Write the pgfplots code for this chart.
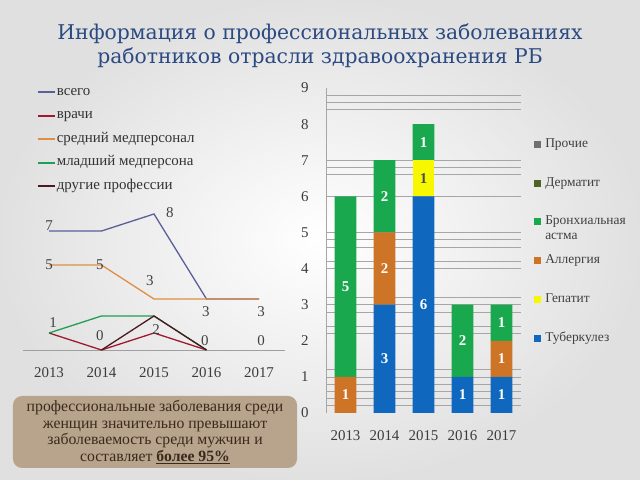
\documentclass[border=0pt]{standalone}
\usepackage{pgfplots}
\pgfplotsset{compat=1.18}
\usepackage{fontspec}
\setmainfont{Liberation Serif}
\newfontfamily\titlefont{DejaVu Serif}
\definecolor{ctitle}{HTML}{2B4A82}
\definecolor{cvsego}{HTML}{5B5F97}
\definecolor{cvrachi}{HTML}{A0182E}
\definecolor{csred}{HTML}{E08E45}
\definecolor{cmlad}{HTML}{1F9E55}
\definecolor{cdrug}{HTML}{4A1A20}
\definecolor{ctub}{HTML}{0F67BE}
\definecolor{cgep}{HTML}{F7F700}
\definecolor{call}{HTML}{CD7426}
\definecolor{cast}{HTML}{1AA84F}
\definecolor{cderm}{HTML}{4F6228}
\definecolor{cpro}{HTML}{707070}
\definecolor{cbox}{HTML}{B8A38C}
\definecolor{cboxtext}{HTML}{3A2A1C}
\definecolor{cgrid}{HTML}{A6A6A6}
\definecolor{ctick}{HTML}{3C3C3C}
\newcommand{\bronh}{\vtop{\hbox{Бронхиальная}\hbox{астма}}}
\tikzset{lbl/.style={font=\fontsize{15}{18}\selectfont, text=black!75},
  blbl/.style={font=\fontsize{15}{18}\selectfont\bfseries, text=white}}
\begin{document}
\begin{tikzpicture}[x=1bp,y=1bp]
\path[use as bounding box] (0,0) rectangle (640,480);
\shade[inner color=white, outer color=black!12] (0,0) rectangle (640,480);
\node[font=\titlefont\fontsize{20.4}{24}\selectfont, text=ctitle, align=center] at (320,434) {Информация о профессиональных заболеваниях\\работников отрасли здравоохранения РБ};

% ---------- left line chart ----------
\begin{axis}[at={(22.75bp,130bp)}, anchor=south west, scale only axis,
  width=262.5bp, height=153bp,
  xmin=-0.5, xmax=4.5, ymin=0, ymax=9,
  axis y line=none, axis x line=bottom,
  x axis line style={draw=gray!75, -, line width=0.8pt},
  xtick={0,1,2,3,4}, xticklabels={2013,2014,2015,2016,2017},
  major tick length=0,
  xticklabel style={font=\fontsize{15}{18}\selectfont, text=ctick, yshift=-14.5bp},
  clip=false,
  legend cell align=left,
  legend image code/.code={\draw[#1] (0bp,0bp) -- (17bp,0bp);},
  legend style={at={(0.0543,1.732)}, anchor=north west, draw=none, fill=none,
    inner sep=0pt, row sep=9.5bp, column sep=0bp,
    font=\fontsize{15}{17}\selectfont, text=black!80,
    nodes={text height=9bp, text depth=3bp, inner sep=1bp}},
]
\addlegendimage{cvsego, line width=1.6pt}
\addlegendentry{всего}
\addlegendimage{cvrachi, line width=1.6pt}
\addlegendentry{врачи}
\addlegendimage{csred, line width=1.6pt}
\addlegendentry{средний медперсонал}
\addlegendimage{cmlad, line width=1.6pt}
\addlegendentry{младший медперсона}
\addlegendimage{cdrug, line width=1.6pt}
\addlegendentry{другие профессии}
\addplot[cvsego, line width=1.3pt, forget plot] coordinates {(0,7)(1,7)(2,8)(3,3)(4,3)};
\addplot[cvrachi, line width=1.3pt, forget plot] coordinates {(0,1)(1,0)(2,1)(3,0)};
\addplot[csred, line width=1.3pt, forget plot] coordinates {(0,5)(1,5)(2,3)(3,3)(4,3)};
\addplot[cmlad, line width=1.3pt, forget plot] coordinates {(0,1)(1,2)(2,2)(3,0)};
\addplot[cdrug, line width=1.3pt, forget plot] coordinates {(1,0)(2,2)(3,0)};
\node[lbl] at (axis cs:0,7.3) {7};
\node[lbl] at (axis cs:2.3,8.06) {8};
\node[lbl] at (axis cs:0,5) {5};
\node[lbl] at (axis cs:0.97,5) {5};
\node[lbl] at (axis cs:1.92,4.06) {3};
\node[lbl] at (axis cs:2.99,2.24) {3};
\node[lbl] at (axis cs:4.04,2.24) {3};
\node[lbl] at (axis cs:0.08,1.6) {1};
\node[lbl] at (axis cs:0.97,0.82) {0};
\node[lbl] at (axis cs:2.04,1.18) {2};
\node[lbl] at (axis cs:2.97,0.53) {0};
\node[lbl] at (axis cs:4.04,0.53) {0};
\end{axis}

% ---------- right stacked bar chart ----------
\begin{axis}[at={(326bp,67bp)}, anchor=south west, scale only axis,
  width=195bp, height=325bp,
  xmin=-0.5, xmax=4.5, ymin=0, ymax=9,
  ybar stacked, bar width=21.7bp,
  axis x line=bottom, axis y line=left,
  x axis line style={draw=none},
  y axis line style={draw=gray!70, -, line width=0.8pt},
  xtick={0,1,2,3,4}, xticklabels={2013,2014,2015,2016,2017},
  ytick={0,1,...,9},
  major tick length=0,
  extra y ticks={0.2,0.4,0.6,0.8,1,1.2,2.2,2.4,2.8,3,3.2,4,4.2,4.6,4.8,5,6,6.6,6.8,7,8.4,8.6,8.8},
  extra y tick labels={},
  extra y tick style={grid=major, major grid style={cgrid, line width=0.7pt}},
  /pgf/number format/assume math mode=true,
  xticklabel style={font=\fontsize{15}{18}\selectfont, text=ctick, yshift=-14bp},
  yticklabel style={font=\fontsize{15}{18}\selectfont, text=ctick, xshift=-14bp},
]
\addplot[fill=ctub, draw=none] coordinates {(0,0)(1,3)(2,6)(3,1)(4,1)};
\addplot[fill=cgep, draw=none] coordinates {(0,0)(1,0)(2,1)(3,0)(4,0)};
\addplot[fill=call, draw=none] coordinates {(0,1)(1,2)(2,0)(3,0)(4,1)};
\addplot[fill=cast, draw=none] coordinates {(0,5)(1,2)(2,1)(3,2)(4,1)};
\end{axis}

% ---------- overlay: bar labels and legend ----------
\begin{axis}[at={(326bp,67bp)}, anchor=south west, scale only axis,
  width=195bp, height=325bp,
  xmin=-0.5, xmax=4.5, ymin=0, ymax=9,
  hide axis, clip=false,
  legend cell align=left,
  legend image code/.code={\fill[#1] (0bp,-3.5bp) rectangle (7bp,3.5bp);},
  legend style={at={(1.067,0.846)}, anchor=north west, draw=none, fill=none,
    inner sep=0pt, row sep=26.8bp, column sep=3bp,
    font=\fontsize{13.5}{15}\selectfont, text=black!75,
    nodes={text height=8bp, text depth=2bp, inner sep=1bp}},
]
\addlegendimage{fill=cpro, draw=none}
\addlegendentry{Прочие}
\addlegendimage{fill=cderm, draw=none}
\addlegendentry{Дерматит}
\addlegendimage{fill=cast, draw=none}
\addlegendentry{\bronh}
\addlegendimage{fill=call, draw=none}
\addlegendentry{Аллергия}
\addlegendimage{fill=cgep, draw=none}
\addlegendentry{Гепатит}
\addlegendimage{fill=ctub, draw=none}
\addlegendentry{Туберкулез}
\node[blbl] at (axis cs:0,0.5) {1};
\node[blbl] at (axis cs:0,3.5) {5};
\node[blbl] at (axis cs:1,1.5) {3};
\node[blbl] at (axis cs:1,4) {2};
\node[blbl] at (axis cs:1,6) {2};
\node[blbl] at (axis cs:2,3) {6};
\node[blbl, text=black!70] at (axis cs:2,6.5) {1};
\node[blbl] at (axis cs:2,7.5) {1};
\node[blbl] at (axis cs:3,0.5) {1};
\node[blbl] at (axis cs:3,2) {2};
\node[blbl] at (axis cs:4,0.5) {1};
\node[blbl] at (axis cs:4,1.5) {1};
\node[blbl] at (axis cs:4,2.5) {1};
\end{axis}

% ---------- text box ----------
\node[fill=cbox, rounded corners=9bp, minimum width=284bp, minimum height=72bp,
  text=cboxtext, align=center, font=\fontsize{15.8}{17}\selectfont, inner sep=2bp]
  at (155,48) {профессиональные заболевания среди\\женщин значительно превышают\\заболеваемость среди мужчин и\\составляет \textbf{\underline{более 95\%}}};
\end{tikzpicture}
\end{document}
